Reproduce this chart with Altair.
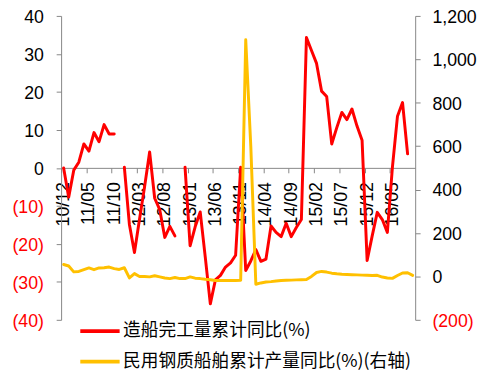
import json
import altair as alt
import pandas as pd

# Month index 0 = 2010/12 ... 69 = 2016/09
tick_labels = ["10/12", "11/05", "11/10", "12/03", "12/08", "13/01", "13/06",
               "13/11", "14/04", "14/09", "15/02", "15/07", "15/12", "16/05"]

red = [0, -7.7, -0.6, 1.5, 6.3, 4.4, 9.3, 6.9, 11.4, 8.9, 8.9, None,
       0.2, -14.9, -22.3, -13.5, -5, 4.2, -8, -11, -18.3, -15.4, -17.9, None,
       0.2, -20.5, -15.5, -11.6, -23.5, -35.8, -29.5, -28.3, -26.1, -25, -23,
       0.2, -27, -24.5, -21.5, -24.6, -24, -15.3, -17, -18.1, -14.6, -18.1, -15.7, -13.6,
       34.3, 30.9, 27.5, 20.2, 18.8, 6.3, 10.6, 14.6, 12.7, 15.5, 11, 7.3,
       -24.4, -17.9, -11.7, -13.6, -17, 0.2, 13.6, 17.2, 3.7, None]

yellow = [55, 48, 21, 23, 31, 39, 31, 39, 40, 43, 36, 32, 40,
          -7, 13, 0, 0, -2, 3, -2, -7, -10, -5, -10, -10, -2, -8, -10, -13, -15,
          -19, -19, -19, -19, -19, -18, 1090, 600,
          -36, -30, -26, -24, -21, -19, -18, -17, -16, -15, -14,
          0, 18, 23, 20, 15, 12, 10, 9, 8, 7, 6,
          5, 4, 5, -3, -7, -9, 4, 16, 17, 5]

SER1 = "造船完工量累计同比(%)"
SER2 = "民用钢质船舶累计产量同比(%)(右轴)"
RED = "#FF0000"
YEL = "#FFC000"
AXC = "#868686"
FONT = "Liberation Sans"

rows = []
seg = 0
gap = True
for i, v in enumerate(red):
    if v is None:
        gap = True
        continue
    if gap:
        seg += 1
        gap = False
    rows.append({"i": i, "v": v, "seg": f"a{seg}", "series": SER1})
df_red = pd.DataFrame(rows)
df_yel = pd.DataFrame({"i": list(range(len(yellow))), "v": yellow,
                       "seg": "b", "series": SER2})

n = len(yellow)
tick_vals = [k * 5 - 0.5 for k in range(len(tick_labels))]
label_expr = json.dumps(tick_labels) + "[round((datum.value + 0.5) / 5)]"

xenc = alt.X("i:Q",
             scale=alt.Scale(domain=[-0.5, n - 0.5], nice=False, zero=False),
             axis=alt.Axis(values=tick_vals, labelExpr=label_expr, labelAngle=-90,
                           labelAlign="right", labelBaseline="middle",
                           labelOffset=2.6, offset=-154.5, tickSize=5, labelPadding=9,
                           grid=False, title=None, domainColor=AXC, tickColor=AXC,
                           labelFont=FONT, labelFontSize=18, labelColor="#000000"))

neg_color = {"condition": {"test": "datum.value < 0", "value": RED}, "value": "#000000"}

color = alt.Color("series:N",
                  scale=alt.Scale(domain=[SER1, SER2], range=[RED, YEL]),
                  legend=alt.Legend(orient="none", legendX=17.5, legendY=298.5,
                                    direction="vertical", title=None,
                                    symbolType="stroke", symbolSize=1600,
                                    symbolStrokeWidth=4, labelFont="Noto Sans CJK SC",
                                    labelFontSize=18, labelOffset=1.5, rowPadding=-9,
                                    padding=0, labelLimit=500, labelColor="#000000"))

left = alt.Chart(df_red).mark_line(strokeWidth=3, strokeJoin="round", strokeCap="round").encode(
    x=xenc,
    y=alt.Y("v:Q", scale=alt.Scale(domain=[-40, 40], nice=False, zero=False),
            axis=alt.Axis(values=list(range(-40, 41, 10)), orient="left",
                          labelExpr="datum.value < 0 ? '(' + format(-datum.value, ',') + ')' : format(datum.value, ',') + '\u00a0'",
                          labelColor=neg_color, grid=False, title=None,
                          tickSize=5, labelPadding=13, labelOffset=1.5,
                          domainColor=AXC, tickColor=AXC,
                          labelFont=FONT, labelFontSize=18)),
    color=color,
    detail="seg:N",
)

right = alt.Chart(df_yel).mark_line(strokeWidth=3, strokeJoin="round", strokeCap="round").encode(
    x=xenc,
    y=alt.Y("v:Q", scale=alt.Scale(domain=[-200, 1200], nice=False, zero=False),
            axis=alt.Axis(values=list(range(-200, 1201, 200)), orient="right",
                          labelExpr="datum.value < 0 ? '(' + format(-datum.value, ',') + ')' : format(datum.value, ',')",
                          labelColor=neg_color, grid=False, title=None,
                          tickSize=5, labelPadding=12, labelOffset=1.5,
                          domainColor=AXC, tickColor=AXC,
                          labelFont=FONT, labelFontSize=18)),
    color=color,
    detail="seg:N",
)

chart = alt.layer(left, right).resolve_scale(y="independent").properties(
    width=360, height=309,
    autosize=alt.AutoSizeParams(type="none"),
    padding={"left": 54, "top": 5, "right": 72, "bottom": 51},
).configure_view(stroke=None)

chart.save("out.html", embed_options={"renderer": "svg", "actions": False})
